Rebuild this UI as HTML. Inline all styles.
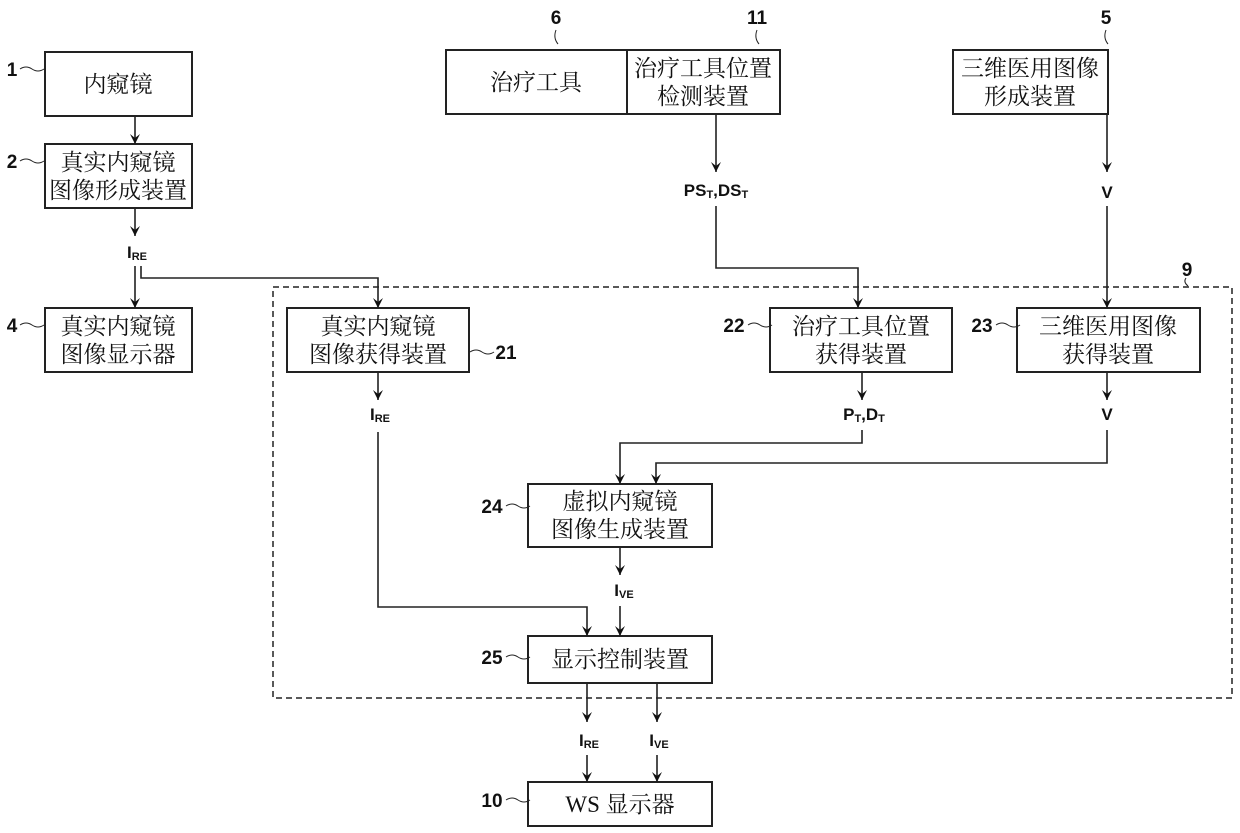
<!DOCTYPE html>
<html><head><meta charset="utf-8"><style>
html,body{margin:0;padding:0;background:#fff}
svg{display:block}
text{font-family:"Liberation Sans","Noto Sans CJK SC",sans-serif;fill:#111}
.c{font-size:23px;text-anchor:middle;font-family:"Liberation Serif","Noto Serif CJK SC",serif}
.n{font-size:19px;font-weight:bold;text-anchor:middle}
.l{font-size:17px;font-weight:bold;text-anchor:middle}
</style></head><body>
<svg width="1240" height="833" viewBox="0 0 1240 833">
<defs><marker id="a" markerWidth="12" markerHeight="12" refX="10" refY="5" orient="auto" markerUnits="userSpaceOnUse"><path d="M0,0 L10,5 L0,10 L4,5 Z" fill="#111"/></marker></defs>
<g fill="none" stroke="#222" stroke-width="2">
<rect x="45" y="52" width="147" height="64"/>
<rect x="45" y="144" width="147" height="64"/>
<rect x="45" y="308" width="147" height="64"/>
<rect x="446" y="50" width="181" height="64"/>
<rect x="627" y="50" width="153" height="64"/>
<rect x="953" y="50" width="155" height="64"/>
<rect x="287" y="308" width="182" height="64"/>
<rect x="770" y="308" width="182" height="64"/>
<rect x="1017" y="308" width="183" height="64"/>
<rect x="528" y="484" width="184" height="63"/>
<rect x="528" y="636" width="184" height="47"/>
<rect x="528" y="782" width="184" height="44"/>
<rect x="273" y="287" width="959" height="411" stroke-dasharray="6,4" stroke-width="1.5"/>
</g>
<g fill="none" stroke="#222" stroke-width="1.6" marker-end="url(#a)">
<path d="M135 116 V144"/>
<path d="M135 208 V236"/>
<path d="M135 266 V308"/>
<path d="M141 266 V278 H378 V308"/>
<path d="M716 114 V172"/>
<path d="M716 206 V268 H858 V308"/>
<path d="M1107 114 V172"/>
<path d="M1107 206 V308"/>
<path d="M378 372 V400"/>
<path d="M862 372 V400"/>
<path d="M1107 372 V400"/>
<path d="M378 432 V607 H587 V636"/>
<path d="M862 430 V443 H620 V484"/>
<path d="M1107 430 V463 H656 V484"/>
<path d="M620 547 V575"/>
<path d="M620 606 V636"/>
<path d="M587 683 V722"/>
<path d="M657 683 V722"/>
<path d="M587 755 V782"/>
<path d="M657 755 V782"/>
</g>
<g fill="none" stroke="#222" stroke-width="1">
<path d="M20 69 q6 -4 12 0 t12 0"/>
<path d="M20 161 q6 -4 12 0 t12 0"/>
<path d="M20 325 q6 -4 12 0 t12 0"/>
<path d="M470 352 q6 -4 12 0 t12 0"/>
<path d="M748 325 q6 -4 12 0 t12 0"/>
<path d="M996 325 q6 -4 12 0 t12 0"/>
<path d="M506 506 q6 -4 12 0 t12 0"/>
<path d="M506 657 q6 -4 12 0 t12 0"/>
<path d="M506 800 q6 -4 12 0 t12 0"/>
<path d="M556 30 q-3 8 2 14"/>
<path d="M757 30 q-3 8 2 14"/>
<path d="M1106 30 q-3 8 2 14"/>
<path d="M1186 278 q-3 4 2 8"/>
</g>
<text class="c" x="118" y="92">内窥镜</text>
<text class="c" x="118" y="170">真实内窥镜</text><text class="c" x="118" y="198">图像形成装置</text>
<text class="c" x="118" y="334">真实内窥镜</text><text class="c" x="118" y="362">图像显示器</text>
<text class="c" x="536" y="90">治疗工具</text>
<text class="c" x="703" y="76">治疗工具位置</text><text class="c" x="703" y="104">检测装置</text>
<text class="c" x="1030" y="76">三维医用图像</text><text class="c" x="1030" y="104">形成装置</text>
<text class="c" x="378" y="334">真实内窥镜</text><text class="c" x="378" y="362">图像获得装置</text>
<text class="c" x="861" y="334">治疗工具位置</text><text class="c" x="861" y="362">获得装置</text>
<text class="c" x="1108" y="334">三维医用图像</text><text class="c" x="1108" y="362">获得装置</text>
<text class="c" x="620" y="509">虚拟内窥镜</text><text class="c" x="620" y="537">图像生成装置</text>
<text class="c" x="620" y="667">显示控制装置</text>
<text class="c" x="620" y="812">WS 显示器</text>
<text class="n" x="12" y="76">1</text>
<text class="n" x="12" y="168">2</text>
<text class="n" x="12" y="332">4</text>
<text class="n" x="556" y="24">6</text>
<text class="n" x="757" y="24">11</text>
<text class="n" x="1106" y="24">5</text>
<text class="n" x="1187" y="276">9</text>
<text class="n" x="506" y="359">21</text>
<text class="n" x="734" y="332">22</text>
<text class="n" x="982" y="332">23</text>
<text class="n" x="492" y="513">24</text>
<text class="n" x="492" y="664">25</text>
<text class="n" x="492" y="807">10</text>
<text class="l" x="137" y="258">I<tspan font-size="11" dy="2">RE</tspan></text>
<text class="l" x="380" y="420">I<tspan font-size="11" dy="2">RE</tspan></text>
<text class="l" x="589" y="746">I<tspan font-size="11" dy="2">RE</tspan></text>
<text class="l" x="624" y="596">I<tspan font-size="11" dy="2">VE</tspan></text>
<text class="l" x="659" y="746">I<tspan font-size="11" dy="2">VE</tspan></text>
<text class="l" x="716" y="196">PS<tspan font-size="11" dy="2">T</tspan><tspan dy="-2">,DS</tspan><tspan font-size="11" dy="2">T</tspan></text>
<text class="l" x="864" y="420">P<tspan font-size="11" dy="2">T</tspan><tspan dy="-2">,D</tspan><tspan font-size="11" dy="2">T</tspan></text>
<text class="l" x="1107" y="198" font-size="20">V</text>
<text class="l" x="1107" y="420" font-size="20">V</text>
</svg>
</body></html>
